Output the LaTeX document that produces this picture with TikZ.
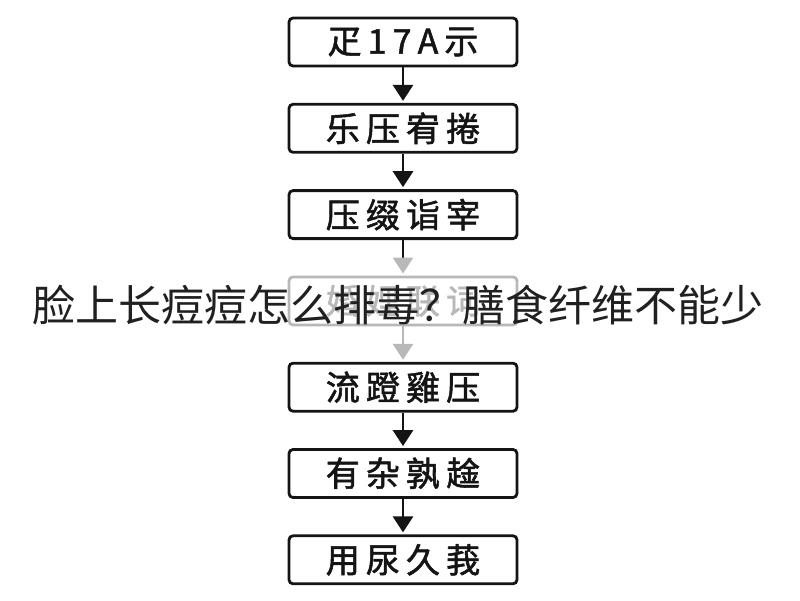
\documentclass[tikz,border=0pt]{standalone}
\usepackage{fontspec}
\setmainfont{Noto Sans CJK SC}
\newfontfamily\boxfont{Noto Sans CJK SC}[LetterSpace=18,FakeBold=1.6]
\usetikzlibrary{positioning,arrows.meta}
\definecolor{ink}{gray}{0.08}
\definecolor{fade}{gray}{0.72}
\tikzset{stepbox/.style={draw=ink,line width=2.8pt,rounded corners=4pt,minimum width=228pt,minimum height=48pt,
    inner sep=0pt,text=ink,font=\boxfont\fontsize{34}{34}\selectfont},
  flow/.style={draw=ink,line width=2.8pt,shorten >=2pt,-{Triangle[width=20pt,length=16pt]}}}
\begin{document}
\begin{tikzpicture}[x=1pt,y=-1pt,node distance=35.5pt]
  \useasboundingbox (0,0) rectangle (800,600);
  \node[stepbox] (start) at (403,42) {疋17A示};
  \node[stepbox,below=of start] (press) {乐压宥捲};
  \node[stepbox,below=of press] (level) {压缀诣宰};
  \node[stepbox,below=of level,draw=fade,text=fade] (link) {婚娌联词};
  \node[stepbox,below=of link] (flow) {流蹬雞压};
  \node[stepbox,below=of flow] (rest) {有杂孰趛};
  \node[stepbox,below=of rest] (end) {用尿久莪};
  \draw[flow] (start) -- (press);
  \draw[flow] (press) -- (level);
  \draw[flow,-{Triangle[width=20pt,length=16pt,color=fade]}] (level) -- (link);
  \draw[flow,draw=fade] (link) -- (flow);
  \draw[flow] (flow) -- (rest);
  \draw[flow] (rest) -- (end);
  % title laid over the chart
  \node[text=ink!95,inner sep=0pt,font=\fontsize{43}{43}\selectfont] (title) at (398,305) {脸上长痘痘怎么排毒？膳食纤维不能少};
\end{tikzpicture}
\end{document}
